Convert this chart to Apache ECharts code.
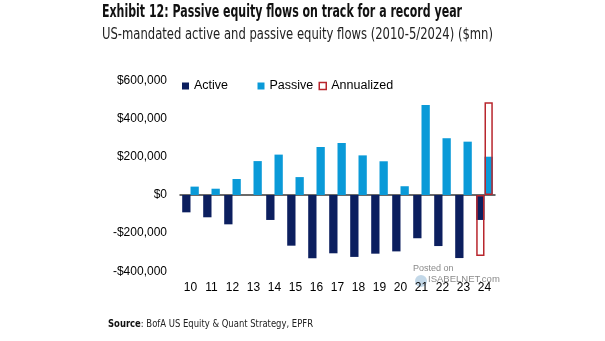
<!DOCTYPE html>
<html><head><meta charset="utf-8">
<script src="https://cdn.jsdelivr.net/npm/echarts@6/dist/echarts.min.js"></script>
<style>html,body{margin:0;padding:0;background:#fff}#c{width:605px;height:341px}</style>
</head><body><div id="c"></div>
<script>
const years = ['10','11','12','13','14','15','16','17','18','19','20','21','22','23','24'];
const active = [-91000,-117000,-154000,0,-131000,-266000,-332000,-306000,-325000,-308000,-296000,-227000,-268000,-331000,-131000];
const passive = [44000,33000,84000,178000,212000,94000,252000,273000,208000,177000,46000,472000,298000,280000,201000];
const annualizedActive = [null,null,null,null,null,null,null,null,null,null,null,null,null,null,-320000];
const annualizedPassive = [null,null,null,null,null,null,null,null,null,null,null,null,null,null,487000];
const yTicks = {min:-400000, max:600000, interval:200000};

const titleText = 'Exhibit 12: Passive equity flows on track for a record year';
const subText = 'US-mandated active and passive equity flows (2010-5/2024) ($mn)';

const cv = document.createElement('canvas').getContext('2d');
function w(font, t){ cv.font = font; return cv.measureText(t).width; }
const NARROW = '"Liberation Sans Narrow", "DejaVu Sans Condensed", sans-serif';
const tFont = 'bold 17px ' + NARROW;
const sFont = '15px ' + NARROW;
const srcB = 'bold 11px ' + NARROW, srcN = '11px ' + NARROW;
const tScale = 360 / w(tFont, titleText);
const sScale = 391 / w(sFont, subText);
const srcScale = 205 / (w(srcB,'Source') + w(srcN, ': BofA US Equity & Quant Strategy, EPFR'));

function fmt(v){
  const a = Math.abs(v).toString().replace(/\B(?=(\d{3})+(?!\d))/g, ',');
  return (v < 0 ? '-$' : '$') + a;
}
const NAVY = '#0c1f5f', BLUE = '#0a9ad8', RED = '#b8262d';
const ARIAL = '"Liberation Sans", Arial, sans-serif';
const chart = echarts.init(document.getElementById('c'));
const bw = 8.3;
const legText = {fontFamily: ARIAL, fontSize: 12.5, color:'#000'};
chart.setOption({
  animation: false,
  backgroundColor: '#fff',
  grid: {left: 180, right: 110, top: 80.7, bottom: 69.8, containLabel: false},
  legend: [
    {left: 182, top: 79.5, padding: 0, icon: 'rect', itemWidth: 7, itemHeight: 7, textStyle: legText, data: ['Active']},
    {left: 257.5, top: 79.5, padding: 0, icon: 'rect', itemWidth: 7, itemHeight: 7, textStyle: legText, data: ['Passive']},
    {left: 318.5, top: 79.5, padding: 0, icon: 'rect', itemWidth: 7, itemHeight: 7, textStyle: legText,
      data: [{name:'Annualized', itemStyle:{color:'#fff', borderColor: RED, borderWidth: 1.5}}]}
  ],
  xAxis: [
    {type:'category', data: years, position:'bottom', axisLine:{show:false, onZero:false}, axisTick:{show:false},
     axisLabel:{fontFamily: ARIAL, fontSize: 12, color:'#000', margin: 10}},
    {type:'category', data: years, position:'bottom', axisLine:{show:true, onZero:true, lineStyle:{color:'#3a3a3a', width:1.5}},
     axisTick:{show:false}, axisLabel:{show:false}}
  ],
  yAxis: {type:'value', min: yTicks.min, max: yTicks.max, interval: yTicks.interval,
    axisLine:{show:false}, axisTick:{show:false}, splitLine:{show:false},
    axisLabel:{fontFamily: ARIAL, fontSize: 12, color:'#000', margin: 13, formatter: fmt}},
  series: [
    {name:'Active', type:'bar', data: active, barWidth: bw, barGap: 0, itemStyle:{color: NAVY}},
    {name:'Passive', type:'bar', data: passive, barWidth: bw, barGap: 0, itemStyle:{color: BLUE}},
    {name:'Annualized', type:'bar', xAxisIndex:1, data: annualizedActive, barWidth: bw, barGap: 0, z: 5,
     itemStyle:{color:'rgba(0,0,0,0)', borderColor: RED, borderWidth: 1.5}},
    {name:'Annualized', type:'bar', xAxisIndex:1, data: annualizedPassive, barWidth: bw, barGap: 0, z: 5,
     itemStyle:{color:'rgba(0,0,0,0)', borderColor: RED, borderWidth: 1.5}}
  ],
  graphic: [
    {type:'text', x:102, y:13, scaleX: tScale, style:{text: titleText, font: tFont, fill:'#111', verticalAlign:'middle'}},
    {type:'text', x:102, y:35.5, scaleX: sScale, style:{text: subText, font: sFont, fill:'#222', verticalAlign:'middle'}},
    {type:'text', x:108, y:324, scaleX: srcScale, style:{text: '{b|Source}{n|: BofA US Equity & Quant Strategy, EPFR}', verticalAlign:'middle',
      rich:{b:{font: srcB, fill:'#111'}, n:{font: srcN, fill:'#222'}}}},
    {type:'text', x:413, y:269, style:{text:'Posted on', font:'9px ' + ARIAL, fill:'#8a8a8a', verticalAlign:'middle'}},
    {type:'text', x:428, y:279, style:{text:'ISABELNET.com', font:'9.5px ' + ARIAL, fill:'#8a8a8a', verticalAlign:'middle'}},
    {type:'circle', shape:{cx:421, cy:281, r:6}, style:{fill:'#a9c8de', opacity:0.7}}
  ]
});
</script></body></html>
